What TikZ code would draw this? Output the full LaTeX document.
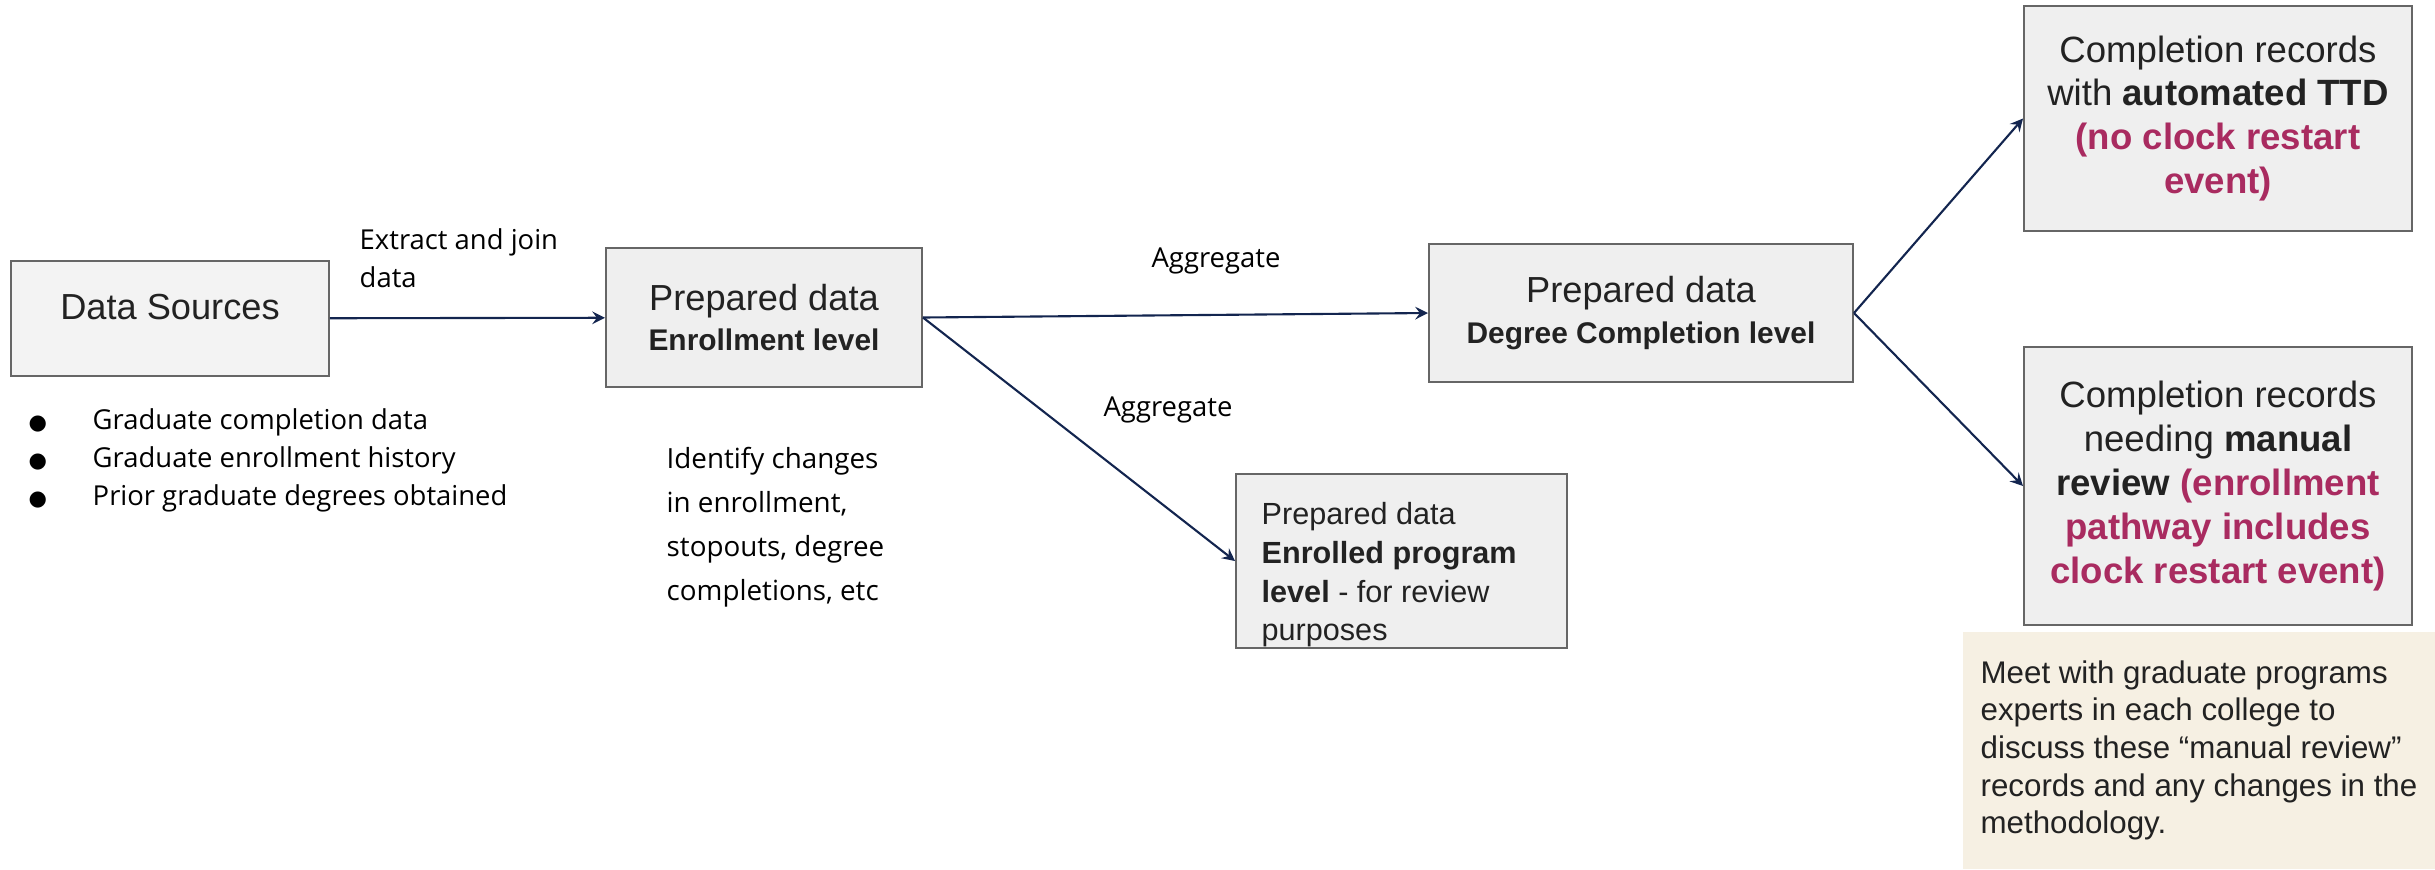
\documentclass[tikz,border=0pt]{standalone}
\usepackage{fontspec}
\setmainfont{Liberation Sans}
\newfontfamily\labelfont{Open Sans}
\newfontfamily\symfont{DejaVu Sans}
\definecolor{boxgray}{HTML}{EFEFEF}
\definecolor{srcgray}{HTML}{F3F3F3}
\definecolor{edgegray}{HTML}{666666}
\definecolor{navy}{HTML}{13254F}
\definecolor{plum}{HTML}{A92B60}
\definecolor{notebeige}{HTML}{F6F0E3}
\definecolor{ink}{HTML}{222222}
\newcommand{\bulletitem}{\makebox[0.64cm][l]{\symfont\fontsize{6}{6}\selectfont ●}}
\tikzset{
  databox/.style={rectangle,draw=edgegray,line width=0.5pt,fill=boxgray,text=ink,align=center,inner sep=0pt},
  flow/.style={-stealth,draw=navy,line width=0.6pt},
  annot/.style={font=\labelfont\fontsize{7.8}{10.8}\selectfont,text=black,align=left,inner sep=0pt},
}
\begin{document}
\begin{tikzpicture}[x=0.01cm,y=-0.01cm]
\useasboundingbox (0,0) rectangle (2435,869);
\node at (170,318.5) [databox,fill=srcgray,minimum width=3.18cm,minimum height=1.15cm,text depth=6.5pt,font=\fontsize{10.3}{11.4}\selectfont] (src) {Data Sources};
\node at (764,317.5) [databox,minimum width=3.16cm,minimum height=1.39cm,font=\fontsize{10.3}{11.4}\selectfont] (enr) {Prepared data\\\fontsize{8.5}{11.4}\selectfont\bfseries Enrollment level};
\node at (1641,313) [databox,minimum width=4.24cm,minimum height=1.38cm,font=\fontsize{10.3}{11.4}\selectfont] (deg) {Prepared data\\\fontsize{8.5}{11.4}\selectfont\bfseries Degree Completion level};
\node at (1401.5,561) [databox,minimum width=3.31cm,minimum height=1.74cm] (prog) {};
\node at (1261,502) [anchor=north west,inner sep=0pt,align=left,text=ink,font=\fontsize{8.7}{11}\selectfont] (progtext) {Prepared data\\\textbf{Enrolled program}\\\textbf{level} - for review\\purposes};
%
\node at (2218,118.5) [databox,minimum width=3.88cm,minimum height=2.25cm,font=\fontsize{10.4}{12.5}\selectfont] (auto) {Completion records\\with \textbf{automated TTD}\\\textcolor{plum}{\textbf{(no clock restart}}\\\textcolor{plum}{\textbf{event)}}};
\node at (2218,486) [databox,minimum width=3.88cm,minimum height=2.78cm,font=\fontsize{10.4}{12.5}\selectfont] (manual) {Completion records\\needing \textbf{manual}\\\textbf{review} \textcolor{plum}{\textbf{(enrollment}}\\\textcolor{plum}{\textbf{pathway includes}}\\\textcolor{plum}{\textbf{clock restart event)}}};
\node at (2199,750.5) [rectangle,fill=notebeige,minimum width=4.72cm,minimum height=2.37cm,align=left,inner sep=0pt,text=ink,font=\fontsize{8.9}{10.7}\selectfont] (note) {Meet with graduate programs\\experts in each college to\\discuss these “manual review”\\records and any changes in the\\methodology.};
%
\node at (359,228) [annot,anchor=north west] (extract) {Extract and join\\data};
\node at (1216,261) [annot] (aggtop) {Aggregate};
\node at (1168,410) [annot] (aggbot) {Aggregate};
\node at (28,408) [annot,anchor=north west] (sources) {\bulletitem Graduate completion data\\\bulletitem Graduate enrollment history\\\bulletitem Prior graduate degrees obtained};
\node at (666,447) [annot,anchor=north west,font=\labelfont\fontsize{7.9}{12.5}\selectfont] (changes) {Identify changes\\in enrollment,\\stopouts, degree\\completions, etc};
%
\draw[flow] (src) -- (enr);
\draw[flow] (enr.east) -- (deg.west);
\draw[flow] (enr.east) -- (prog.west);
\draw[flow] (deg.east) -- (auto.west);
\draw[flow] (deg.east) -- (manual.west);
\end{tikzpicture}
\end{document}
